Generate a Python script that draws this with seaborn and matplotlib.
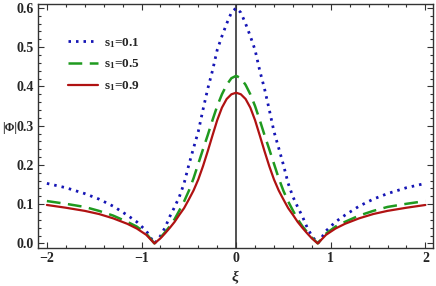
import numpy as np
import pandas as pd
import matplotlib
matplotlib.use('Agg')
import matplotlib.pyplot as plt
import seaborn as sns
from matplotlib.ticker import MultipleLocator

# --- Data (curves are symmetric in xi) ---
xi = [-2.0, -1.8, -1.6, -1.45, -1.3, -1.15, -1.05, -0.95, -0.863,
      -0.8, -0.75, -0.7, -0.65, -0.6, -0.55, -0.5, -0.45, -0.4, -0.35,
      -0.3, -0.25, -0.2, -0.15, -0.1, -0.05, 0.0,
      0.05, 0.1, 0.15, 0.2, 0.25, 0.3, 0.35, 0.4, 0.45, 0.5, 0.55,
      0.6, 0.65, 0.7, 0.75, 0.8, 0.863, 0.95, 1.05, 1.15, 1.3, 1.45,
      1.6, 1.8, 2.0]

phi_s01 = [0.153, 0.142, 0.127, 0.113, 0.095, 0.072, 0.055, 0.032, 0.0,
           0.019, 0.041, 0.069, 0.093, 0.119, 0.153, 0.200, 0.243, 0.285, 0.341,
           0.394, 0.440, 0.493, 0.528, 0.560, 0.588, 0.600,
           0.588, 0.560, 0.528, 0.493, 0.440, 0.394, 0.341, 0.285, 0.243, 0.200, 0.153,
           0.119, 0.093, 0.069, 0.041, 0.019, 0.0, 0.032, 0.055, 0.072, 0.095, 0.113,
           0.127, 0.142, 0.153]

phi_s05 = [0.108, 0.101, 0.093, 0.083, 0.071, 0.055, 0.043, 0.025, 0.0,
           0.015, 0.029, 0.044, 0.062, 0.084, 0.107, 0.134, 0.166, 0.203, 0.240,
           0.276, 0.314, 0.350, 0.380, 0.404, 0.421, 0.427,
           0.421, 0.404, 0.380, 0.350, 0.314, 0.276, 0.240, 0.203, 0.166, 0.134, 0.107,
           0.084, 0.062, 0.044, 0.029, 0.015, 0.0, 0.025, 0.043, 0.055, 0.071, 0.083,
           0.093, 0.101, 0.108]

phi_s09 = [0.098, 0.091, 0.083, 0.075, 0.064, 0.050, 0.038, 0.022, 0.0,
           0.013, 0.026, 0.040, 0.055, 0.073, 0.090, 0.112, 0.135, 0.163, 0.197,
           0.235, 0.275, 0.314, 0.346, 0.368, 0.380, 0.384,
           0.380, 0.368, 0.346, 0.314, 0.275, 0.235, 0.197, 0.163, 0.135, 0.112, 0.090,
           0.073, 0.055, 0.040, 0.026, 0.013, 0.0, 0.022, 0.038, 0.050, 0.064, 0.075,
           0.083, 0.091, 0.098]

labels = ["s$_\\mathbf{1}$=0.1", "s$_\\mathbf{1}$=0.5", "s$_\\mathbf{1}$=0.9"]

df = pd.DataFrame({"xi": xi, "s01": phi_s01, "s05": phi_s05, "s09": phi_s09})

# --- Style ---
sns.set_style("ticks")
plt.rcParams["font.family"] = ["Liberation Serif", "DejaVu Serif"]
plt.rcParams["font.weight"] = "bold"
plt.rcParams["mathtext.fontset"] = "custom"
plt.rcParams["mathtext.rm"] = "Liberation Serif:bold"
plt.rcParams["mathtext.it"] = "Liberation Serif:italic"
plt.rcParams["mathtext.bf"] = "Liberation Serif:bold"

fig = plt.figure(figsize=(4.36, 2.86), dpi=100)
ax = fig.add_axes([0.088, 0.133, 0.905, 0.853])

sns.lineplot(data=df, x="xi", y="s01", ax=ax, color="#1515b5", lw=2.0,
             linestyle=(0, (0.9, 1.8)), label=labels[0])
sns.lineplot(data=df, x="xi", y="s05", ax=ax, color="#1f9a1f", lw=1.8,
             linestyle=(0, (5.5, 3.0)), label=labels[1])
sns.lineplot(data=df, x="xi", y="s09", ax=ax, color="#b01212", lw=1.6,
             label=labels[2])

ax.axvline(0, color="#333333", lw=1.2, zorder=0)

ax.set_xlim(-2.09, 2.08)
ax.set_ylim(-0.0115, 0.61)
ax.xaxis.set_major_locator(MultipleLocator(1))
ax.xaxis.set_minor_locator(MultipleLocator(0.2))
ax.yaxis.set_major_locator(MultipleLocator(0.1))
ax.yaxis.set_minor_locator(MultipleLocator(0.02))
ax.yaxis.set_major_formatter(plt.FormatStrFormatter("%.1f"))
ax.xaxis.set_major_formatter(plt.FuncFormatter(lambda v, p: f"{int(round(v))}".replace("-", "\u2212")))

ax.tick_params(which="both", direction="in", top=True, right=True, width=0.8, color="#333333")
ax.tick_params(which="major", length=4, labelsize=10, pad=3)
ax.tick_params(which="minor", length=2)
for sp in ax.spines.values():
    sp.set_linewidth(1.0)
    sp.set_color("#333333")

ax.set_xlabel("$\\mathit{\\xi}$", fontsize=11, labelpad=2)
ax.set_ylabel("|\u03a6|", fontsize=8.5, fontweight="bold", rotation=0, ha="center", va="center")
ax.yaxis.set_label_coords(-0.074, 0.49)

leg = ax.legend(loc="upper left", bbox_to_anchor=(0.045, 0.918), frameon=False,
                handlelength=2.3, handletextpad=0.4, labelspacing=0.6,
                prop={"weight": "bold", "size": 9.5})

fig.savefig("out.png", dpi=100)
